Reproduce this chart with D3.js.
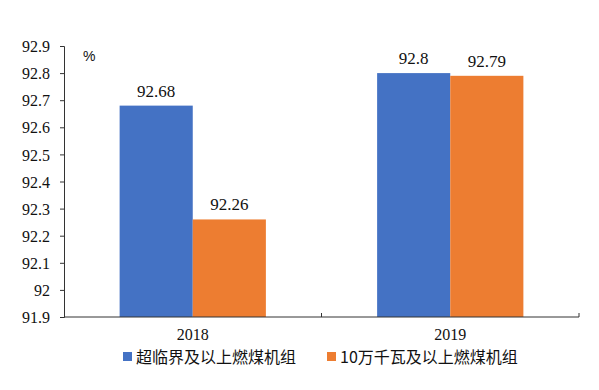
<!DOCTYPE html>
<html>
<head>
<meta charset="utf-8">
<title>Chart</title>
<script src="https://cdn.jsdelivr.net/npm/d3@7"></script>
<style>
  body { margin: 0; background: #fff; }
  svg text { fill: #111; }
</style>
</head>
<body>
<svg id="chart" width="599" height="390"></svg>
<script>
// data
var years = ["2018", "2019"];
var seriesNames = ["超临界及以上燃煤机组", "10万千瓦及以上燃煤机组"];
var supercritical = [92.68, 92.8];
var above100mw = [92.26, 92.79];
var yTicks = [91.9, 92, 92.1, 92.2, 92.3, 92.4, 92.5, 92.6, 92.7, 92.8, 92.9];
var colors = ["#4472C4", "#ED7D31"];

var svg = d3.select("#chart");
var plotL = 64, plotR = 579, plotT = 46, plotB = 317;
var serif = "'Liberation Serif', 'Times New Roman', serif";

var x = d3.scaleBand().domain(years).range([plotL, plotR])
  .paddingInner(0.432).paddingOuter(0.216);
var xs = d3.scaleBand().domain([0, 1]).range([0, x.bandwidth()]);
var y = d3.scaleLinear().domain([91.9, 92.9]).range([plotB, plotT]);

var rows = years.map(function(yr, i) {
  return { year: yr, vals: [supercritical[i], above100mw[i]] };
});

// bars
var g = svg.selectAll("g.grp").data(rows).enter().append("g")
  .attr("transform", function(d) { return "translate(" + x(d.year) + ",0)"; });
g.selectAll("rect").data(function(d) { return d.vals; }).enter().append("rect")
  .attr("x", function(d, i) { return xs(i); })
  .attr("width", xs.bandwidth())
  .attr("y", function(d) { return y(d); })
  .attr("height", function(d) { return plotB - y(d); })
  .attr("fill", function(d, i) { return colors[i]; });
g.selectAll("text").data(function(d) { return d.vals; }).enter().append("text")
  .attr("x", function(d, i) { return xs(i) + xs.bandwidth() / 2; })
  .attr("y", function(d) { return y(d) - 9; })
  .attr("text-anchor", "middle")
  .attr("font-family", serif).attr("font-size", 17)
  .text(function(d) { return d; });

// y axis
var yAxis = d3.axisLeft(y).tickValues(yTicks).tickSize(4).tickPadding(10)
  .tickFormat(function(d) { return d3.format("")(+d.toFixed(1)); });
var ya = svg.append("g").attr("transform", "translate(" + plotL + ",0)").call(yAxis)
  .attr("font-family", serif).attr("font-size", 16);
ya.select(".domain").attr("stroke", "#333");
ya.selectAll(".tick line").attr("stroke", "#333");
ya.selectAll("text").attr("fill", "#111").attr("dy", "0.35em");

// x axis
svg.append("line").attr("x1", plotL).attr("x2", plotR).attr("y1", plotB).attr("y2", plotB)
  .attr("stroke", "#333");
var sep = [plotL + x.step(), plotR];
svg.selectAll("line.sep").data(sep).enter().append("line")
  .attr("x1", function(d) { return d; }).attr("x2", function(d) { return d; })
  .attr("y1", plotB - 4).attr("y2", plotB).attr("stroke", "#333");
svg.selectAll("text.cat").data(years).enter().append("text")
  .attr("x", function(d) { return x(d) + x.bandwidth() / 2; })
  .attr("y", 340)
  .attr("text-anchor", "middle")
  .attr("font-family", serif).attr("font-size", 16)
  .text(function(d) { return d; });

// unit
svg.append("text").attr("x", 83).attr("y", 61)
  .attr("font-family", "'Liberation Sans', Arial, sans-serif").attr("font-size", 14)
  .text("%");

// legend
var legX = [123, 327];
var leg = svg.selectAll("g.leg").data(seriesNames).enter().append("g")
  .attr("transform", function(d, i) { return "translate(" + legX[i] + ",357)"; });
leg.append("rect").attr("x", 0).attr("y", -5).attr("width", 9).attr("height", 9)
  .attr("fill", function(d, i) { return colors[i]; });
leg.append("text").attr("x", 13).attr("y", 6)
  .attr("font-family", "'Noto Sans CJK SC', sans-serif").attr("font-size", 16)
  .text(function(d) { return d; });
</script>
</body>
</html>
